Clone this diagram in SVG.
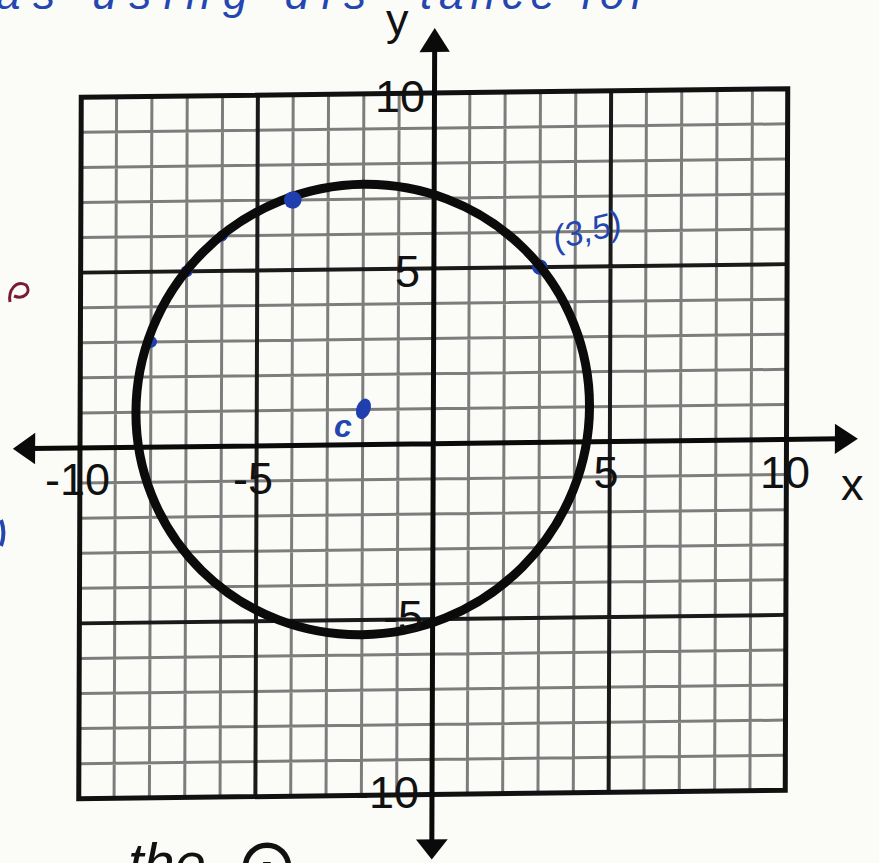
<svg xmlns="http://www.w3.org/2000/svg" width="879" height="863" viewBox="0 0 879 863">
<style>
.thin{stroke:#7d7d7d;stroke-width:3;fill:none;vector-effect:non-scaling-stroke}
.thick{stroke:#1a1a1a;stroke-width:4;fill:none;vector-effect:non-scaling-stroke}
.border{stroke:#111;stroke-width:5;fill:none;vector-effect:non-scaling-stroke}
.axis{stroke:#0a0a0a;stroke-width:5;fill:none;vector-effect:non-scaling-stroke}
.curve{stroke:#0b0b0b;stroke-width:9;fill:none;vector-effect:non-scaling-stroke}
.dot{fill:#1f3fae}
.lbl{font-family:"Liberation Sans",Arial,sans-serif;font-size:45px;fill:#111}
.hand{font-family:"Liberation Sans",Arial,sans-serif;font-style:italic;fill:#2446b0}
</style>
<rect width="879" height="863" fill="#fbfbf8"/>
<text class="hand" x="-4" y="9" font-size="44" textLength="370" lengthAdjust="spacing">as using dis</text>
<text class="hand" x="420" y="9" font-size="44" textLength="226" lengthAdjust="spacing">tance for</text>
<g id="plot" transform="matrix(35.325 -0.425 -0.125 35.075 433.25 443.75)">
  <path class="thin" d="M-9-10V10M-8-10V10M-7-10V10M-6-10V10M-4-10V10M-3-10V10M-2-10V10M-1-10V10M1-10V10M2-10V10M3-10V10M4-10V10M6-10V10M7-10V10M8-10V10M9-10V10M-10-9H10M-10-8H10M-10-7H10M-10-6H10M-10-4H10M-10-3H10M-10-2H10M-10-1H10M-10 1H10M-10 2H10M-10 3H10M-10 4H10M-10 6H10M-10 7H10M-10 8H10M-10 9H10"/>
  <path class="thick" d="M-5-10V10M5-10V10M-10-5H10M-10 5H10"/>
  <rect class="border" x="-10" y="-10" width="20" height="20"/>
  <g id="axes">
    <path class="axis" d="M-11.4 0H11.5M0-11.3V11.4"/>
    <polygon points="12.02,0 11.37,-0.43 11.37,0.43" fill="#0a0a0a"/>
    <polygon points="-11.9,0 -11.27,-0.45 -11.27,0.45" fill="#0a0a0a"/>
    <polygon points="0,-11.85 -0.43,-11.17 0.43,-11.17" fill="#0a0a0a"/>
    <polygon points="0,11.85 -0.45,11.28 0.45,11.28" fill="#0a0a0a"/>
  </g>
  <g id="points-under">
    <circle class="dot" cx="3" cy="-5" r="0.22"/>
    <circle class="dot" cx="-6" cy="-6" r="0.16"/>
    <circle class="dot" cx="-7" cy="-5" r="0.17"/>
    <circle class="dot" cx="-8" cy="-3" r="0.17"/>
  </g>
  <circle id="circle" class="curve" cx="-2" cy="-1" r="6.42"/>
  <circle class="dot" cx="-4" cy="-7" r="0.25"/>
  <ellipse id="center-c" class="dot" cx="-1.98" cy="-1.02" rx="0.2" ry="0.3" transform="rotate(20 -1.98 -1.02)"/>
</g>
<g id="labels">
  <text class="lbl" x="386" y="35">y</text>
  <text class="lbl" x="841" y="500">x</text>
  <text class="lbl" x="425" y="112" text-anchor="end">10</text>
  <text class="lbl" x="420" y="287" text-anchor="end">5</text>
  <text class="lbl" x="423" y="632" text-anchor="end">-5</text>
  <text class="lbl" x="419" y="808" text-anchor="end">-10</text>
  <text class="lbl" x="45" y="495">-10</text>
  <text class="lbl" x="233" y="494">-5</text>
  <text class="lbl" x="606" y="488" text-anchor="middle">5</text>
  <text class="lbl" x="785" y="488" text-anchor="middle">10</text>
</g>
<g id="annotations">
  <text class="hand" x="334" y="437" font-size="32" font-weight="bold">c</text>
  <text class="hand" x="556" y="250" font-size="34" transform="rotate(-14 556 250)">(3,5)</text>
  <text x="128" y="882" font-family="'Liberation Sans',Arial,sans-serif" font-style="italic" font-size="56" fill="#111">the</text>
  <text x="236" y="890" font-family="'DejaVu Sans',sans-serif" font-size="74" fill="#111">⊙</text>
  <path d="M10 302 C8 290 16 280 26 285 C32 292 24 300 14 296" stroke="#7a1a3a" stroke-width="3" fill="none"/>
  <path d="M1 520 C4 528 4 538 1 546" stroke="#2446b0" stroke-width="4" fill="none"/>
</g>
</svg>
